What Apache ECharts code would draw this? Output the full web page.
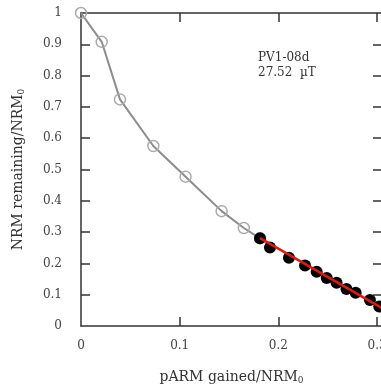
<!DOCTYPE html>
<html>
<head>
<meta charset="utf-8">
<script src="https://cdn.jsdelivr.net/npm/echarts@6/dist/echarts.min.js"></script>
<style>
  html, body { margin: 0; padding: 0; background: #fff; }
  #chart { width: 381px; height: 389px; }
</style>
</head>
<body>
<div id="chart"></div>
<script>
// Steps excluded from the fit (open circles)
const openX = [0, 0.021, 0.0395, 0.0733, 0.106, 0.1425, 0.165, 0.1814];
const openY = [1.0, 0.908, 0.724, 0.575, 0.477, 0.367, 0.313, 0.280];

// Steps used in the fit (filled circles)
const fitPtsX = [0.1814, 0.1915, 0.2107, 0.227, 0.2388, 0.249, 0.259, 0.269, 0.2783, 0.2928, 0.3022];
const fitPtsY = [0.280, 0.251, 0.218, 0.193, 0.1735, 0.153, 0.138, 0.118, 0.106, 0.083, 0.062];

// Least-squares line end points
const lineX = [0.1814, 0.32];
const lineY = [0.281, 0.030];

const xTicks = [0, 0.1, 0.2, 0.3];
const yTicks = [0, 0.1, 0.2, 0.3, 0.4, 0.5, 0.6, 0.7, 0.8, 0.9, 1];

const sampleName = 'PV1-08d';
const fieldLabel = '27.52  µT';

const zip = (xs, ys) => xs.map((x, i) => [x, ys[i]]);

const FONT = 'DejaVu Serif';
const AXIS_COLOR = '#333';

const chart = echarts.init(document.getElementById('chart'), null, { renderer: 'canvas' });

const frameAxisX = (pos, labels, extra) => Object.assign({
  type: 'value', position: pos, min: 0, max: 0.305,
  axisLine: { show: true, onZero: false, lineStyle: { color: AXIS_COLOR, width: 1.5 } },
  axisTick: { show: true, inside: true, length: 9, customValues: xTicks.slice(1), lineStyle: { color: AXIS_COLOR, width: 1.5 } },
  axisLabel: { show: labels, customValues: xTicks, margin: 14, fontFamily: FONT, fontSize: 12, color: '#444' },
  splitLine: { show: false }
}, extra || {});

const frameAxisY = (pos, labels, extra) => Object.assign({
  type: 'value', position: pos, min: 0, max: 1, interval: 0.1,
  axisLine: { show: true, onZero: false, lineStyle: { color: AXIS_COLOR, width: 1.5 } },
  axisTick: { show: true, inside: true, length: 9, customValues: yTicks.slice(1, -1), lineStyle: { color: AXIS_COLOR, width: 1.5 } },
  axisLabel: { show: labels, customValues: yTicks, margin: 19, fontFamily: FONT, fontSize: 12, color: '#444' },
  splitLine: { show: false }
}, extra || {});

chart.setOption({
  backgroundColor: '#fff',
  animation: false,
  grid: { left: 81, top: 13, width: 301, height: 313, containLabel: false, outerBoundsMode: 'none' },
  xAxis: [
    frameAxisX('bottom', true, {
      name: '{a|pARM gained/NRM}{s|0}',
      nameLocation: 'middle', nameGap: 44,
      nameTextStyle: {
        rich: {
          a: { fontFamily: FONT, fontSize: 14, color: '#333' },
          s: { fontFamily: FONT, fontSize: 9, color: '#333', padding: [6, 0, 0, 0] }
        }
      }
    }),
    frameAxisX('top', false)
  ],
  yAxis: [
    frameAxisY('left', true, {
      name: '{a|NRM remaining/NRM}{s|0}',
      nameLocation: 'middle', nameGap: 55, nameRotate: 90,
      nameTextStyle: {
        rich: {
          a: { fontFamily: FONT, fontSize: 14, color: '#333' },
          s: { fontFamily: FONT, fontSize: 9, color: '#333', padding: [6, 0, 0, 0] }
        }
      }
    }),
    frameAxisY('right', false)
  ],
  graphic: [{
    type: 'text', left: 258, top: 50,
    style: {
      text: sampleName + '\n' + fieldLabel,
      font: '12px "DejaVu Serif"', fill: '#333', lineHeight: 15
    }
  }],
  series: [
    {
      type: 'line', data: zip(openX, openY), xAxisIndex: 0, yAxisIndex: 0,
      smooth: false, symbol: 'circle', symbolSize: 11, showSymbol: true,
      lineStyle: { color: '#8c8c8c', width: 2 },
      itemStyle: { color: 'rgba(255,255,255,0)', borderColor: '#ababab', borderWidth: 1.5 },
      z: 2
    },
    {
      type: 'scatter', data: zip(fitPtsX, fitPtsY), xAxisIndex: 0, yAxisIndex: 0,
      symbol: 'circle', symbolSize: 12,
      itemStyle: { color: '#000', opacity: 1 },
      z: 3
    },
    {
      type: 'line', data: zip(lineX, lineY), xAxisIndex: 0, yAxisIndex: 0,
      symbol: 'none', lineStyle: { color: '#e0190f', width: 2.5 },
      clip: true, z: 4
    }
  ]
});
</script>
</body>
</html>
